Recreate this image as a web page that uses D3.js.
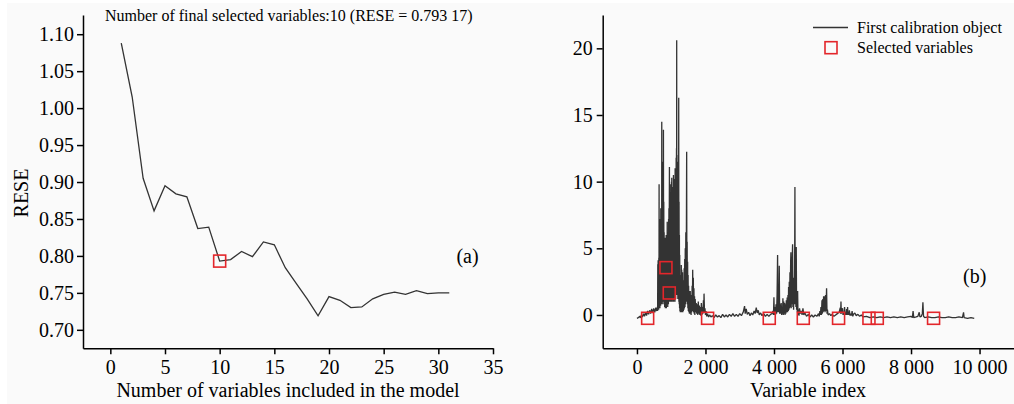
<!DOCTYPE html>
<html>
<head>
<meta charset="utf-8">
<script src="https://cdn.jsdelivr.net/npm/d3@7"></script>
<style>
  body { margin: 0; background: #ffffff; }
  svg { display: block; font-family: "Liberation Serif", "Times New Roman", serif; }
  .axis path, .axis line { stroke: #000; stroke-width: 1.5; }
  .axis text { font-family: "Liberation Serif", serif; font-size: 20px; fill: #000; }
</style>
</head>
<body>
<svg id="chart"></svg>
<script>
// (a) RESE against number of variables in the model
let nVars = [1, 2, 3, 4, 5, 6, 7, 8, 9, 10, 11, 12, 13, 14, 15, 16,
             17, 18, 19, 20, 21, 22, 23, 24, 25, 26, 27, 28, 29, 30, 31];
let rese = [1.088, 1.015, 0.905, 0.861, 0.895, 0.884, 0.880, 0.837, 0.839, 0.793,
            0.795, 0.806, 0.799, 0.819, 0.815, 0.784, 0.763, 0.742, 0.719, 0.745,
            0.740, 0.730, 0.731, 0.742, 0.748, 0.751, 0.748, 0.753, 0.749, 0.750, 0.750];
let bestN = 10;
let bestRese = 0.793;
let leftXTicks = [0, 5, 10, 15, 20, 25, 30, 35];
let leftYTicks = [0.70, 0.75, 0.80, 0.85, 0.90, 0.95, 1.00, 1.05, 1.10];

// (b) spectrum of the first calibration object: [variable index, value]
let spectrum = [
  [0,-0.25],[40,-0.2],[80,-0.1],[100,-0.22],[130,0.0],[160,-0.15],[190,0.1],[220,-0.1],
  [250,0.2],[280,-0.05],[310,0.3],[340,0.05],[370,0.35],[400,0.1],[430,0.45],[460,0.15],
  [490,0.5],[520,0.2],[550,0.55],[575,0.3],[600,0.6],
  [603,0.3],[608,3.8],[613,0.5],[618,4.1],[623,0.8],[628,3.9],[633,0.4],[638,4.3],[643,1.0],
  [646,9.8],[650,0.6],[655,5.2],[660,0.8],[665,6.0],[670,0.5],[675,7.2],[680,1.0],[686,6.5],
  [691,0.7],[696,8.0],[701,1.2],[706,6.8],[711,0.8],[716,7.5],[720,1.5],[724,14.5],[728,1.0],
  [733,9.0],[738,0.8],[743,8.2],[748,1.2],[753,9.5],[758,1.0],[763,11.5],[768,1.5],[773,13.9],
  [778,1.0],[783,8.5],[788,0.8],[793,6.2],[798,1.0],[803,5.5],[808,0.6],[813,4.8],[818,1.0],
  [823,5.8],[828,0.5],[833,4.6],[838,1.2],[843,5.0],[848,0.8],[853,6.0],[858,0.5],[863,4.8],
  [868,1.0],[873,5.5],[878,0.8],[883,7.0],[888,1.0],[893,5.8],[898,0.6],[903,6.2],[908,1.0],
  [913,5.5],[918,0.8],[923,7.2],[928,1.2],[933,8.0],[938,1.0],[943,7.0],[948,11.1],[953,1.5],
  [958,8.5],[963,1.0],[968,9.2],[973,1.2],[978,8.0],[983,1.5],[988,9.8],[993,1.0],[998,8.8],
  [1003,1.5],[1008,10.0],[1013,1.2],[1016,10.3],[1021,1.5],[1026,9.0],[1031,1.0],[1036,9.6],
  [1041,1.8],[1046,8.8],[1051,1.2],[1056,9.5],[1061,1.5],[1065,10.5],[1070,1.0],[1075,9.2],
  [1080,1.8],[1085,8.5],[1090,1.2],[1095,10.2],[1100,1.5],[1105,9.0],[1110,1.0],[1114,11.0],
  [1119,1.8],[1124,9.8],[1129,1.2],[1134,10.5],[1139,2.0],[1144,11.8],[1149,1.5],[1154,12.5],
  [1157,2.0],[1160,20.6],[1164,1.8],[1169,12.0],[1174,1.5],[1179,10.8],[1184,2.0],[1189,11.5],
  [1194,1.2],[1199,9.0],[1204,1.8],[1209,10.0],[1214,1.5],[1219,16.3],[1224,1.0],[1229,8.5],
  [1234,0.8],[1239,6.0],[1244,0.5],[1249,4.5],[1254,0.3],[1259,3.0],[1264,0.2],
  [1270,2.5],[1276,0.2],[1282,3.0],[1288,0.3],[1294,3.75],[1300,0.5],[1306,3.4],[1312,0.2],
  [1318,2.8],[1324,0.3],[1330,3.2],[1338,0.2],[1346,2.0],[1354,0.3],[1362,2.6],[1370,0.4],
  [1378,3.5],[1386,0.5],[1394,4.2],[1402,0.6],[1410,5.0],[1418,0.8],[1426,6.2],[1434,1.0],
  [1442,5.5],[1451,12.25],[1458,1.0],[1465,5.5],[1472,0.8],[1479,4.0],[1486,0.5],[1493,3.0],
  [1500,0.3],[1508,2.2],[1516,0.2],[1524,1.8],[1532,0.1],[1540,1.5],[1548,0.2],[1556,1.8],
  [1564,0.1],[1572,1.2],[1580,0.0],[1590,1.5],[1600,0.2],[1610,2.2],[1618,0.3],[1627,3.4],
  [1636,0.4],[1645,2.8],[1654,0.2],[1663,2.0],[1672,0.1],[1681,1.4],[1690,0.0],[1700,1.2],
  [1715,0.2],[1730,0.9],[1745,0.1],[1760,0.8],[1775,0.0],[1790,1.0],[1805,0.1],[1820,0.7],
  [1835,0.0],[1850,0.6],[1865,-0.05],[1880,0.9],[1895,0.0],[1910,0.6],[1925,0.1],[1940,1.1],
  [1950,0.2],[1958,1.6],[1972,0.2],[1985,0.5],[2000,0.0],[2015,0.3],[2035,-0.1],[2060,0.1],
  [2090,-0.15],
  [2120,0.0],[2160,-0.15],[2200,-0.05],[2250,-0.2],[2300,0.0],[2350,-0.15],[2400,-0.05],
  [2450,-0.2],[2500,0.05],[2550,-0.15],[2600,0.0],[2650,-0.15],[2700,0.05],[2750,-0.1],
  [2800,0.1],[2850,-0.1],[2900,0.05],[2950,-0.1],[3000,0.1],[3050,-0.05],[3100,0.2],
  [3141,0.67],[3160,0.1],[3190,0.45],[3220,0.05],[3260,0.2],[3300,-0.05],[3340,0.15],
  [3380,0.0],[3420,0.3],[3450,0.1],[3482,0.55],[3510,0.15],[3540,0.35],[3570,0.0],
  [3610,0.15],[3650,-0.05],[3700,0.1],[3750,-0.1],[3800,0.05],[3850,-0.1],[3900,0.05],
  [3940,0.1],[3970,0.3],[3985,0.0],[3998,1.33],[4010,0.0],[4030,0.6],[4045,0.0],[4060,0.8],
  [4075,0.1],[4090,1.5],[4105,4.5],[4115,0.2],[4130,1.2],[4140,0.2],[4154,3.7],[4165,0.1],
  [4180,0.8],[4195,0.1],[4210,0.9],[4225,0.0],[4240,0.6],[4250,0.1],[4260,1.25],[4272,0.0],
  [4285,1.0],[4298,0.1],[4310,0.9],[4322,0.0],[4335,0.8],[4348,0.1],[4360,1.1],[4372,0.2],
  [4385,1.3],[4396,0.2],[4408,1.5],[4418,0.3],[4426,2.1],[4436,0.4],[4446,2.5],[4456,0.5],
  [4466,3.2],[4476,0.6],[4486,4.0],[4494,4.7],[4502,0.5],[4512,3.0],[4522,0.8],[4532,4.2],
  [4543,5.3],[4552,0.6],[4562,2.0],[4572,0.4],[4582,2.8],[4592,0.8],[4602,3.5],[4611,9.6],
  [4620,0.8],[4630,2.5],[4640,0.6],[4650,5.1],[4660,0.4],[4670,1.5],[4680,0.2],[4690,1.8],
  [4700,0.0],[4715,0.4],[4730,-0.05],[4745,0.5],[4770,0.1],[4800,0.3],[4820,0.0],[4845,0.5],
  [4870,0.0],[4900,0.15],[4950,-0.1],[5000,0.05],[5050,-0.15],[5100,0.0],[5150,-0.15],
  [5200,0.0],[5250,-0.1],[5300,0.1],[5320,-0.1],[5340,0.3],[5355,0.0],[5370,0.6],[5385,0.0],
  [5400,1.1],[5412,0.1],[5425,1.2],[5436,0.2],[5448,1.4],[5460,0.3],[5477,1.4],[5490,0.2],
  [5505,1.5],[5518,0.3],[5535,2.0],[5548,0.1],[5560,0.4],[5580,0.0],[5620,0.1],[5660,-0.05],
  [5700,0.05],[5750,-0.1],[5800,0.0],[5850,0.1],[5900,0.2],[5935,0.55],[5945,0.1],[5955,1.0],
  [5965,0.1],[5975,0.3],[6000,0.5],[6015,0.0],[6030,0.2],[6045,0.0],[6060,0.6],[6075,0.0],
  [6090,0.2],[6105,0.0],[6120,0.45],[6135,0.0],[6148,0.6],[6160,0.0],[6170,0.2],[6185,0.0],
  [6200,0.35],[6220,-0.05],[6240,0.1],[6260,-0.05],[6280,0.3],[6300,-0.1],[6320,0.05],
  [6360,0.15],[6400,-0.05],[6450,0.05],[6500,-0.1],
  [6550,0.0],[6600,-0.15],[6700,-0.1],[6800,-0.2],[6900,-0.15],[7000,-0.2],[7100,-0.15],
  [7200,-0.2],[7300,-0.15],[7400,-0.2],[7500,-0.15],[7600,-0.2],[7700,-0.15],[7800,-0.2],
  [7900,-0.15],[8000,-0.1],[8040,-0.2],[8060,0.3],[8080,-0.2],[8150,-0.15],[8200,-0.1],
  [8240,0.2],[8260,-0.15],[8300,-0.1],[8330,0.1],[8347,0.95],[8365,-0.1],[8400,-0.2],
  [8500,-0.15],[8600,-0.2],[8700,-0.2],[8800,-0.15],[8900,-0.2],[9000,-0.2],[9100,-0.15],
  [9200,-0.2],[9300,-0.2],[9400,-0.15],[9500,-0.2],[9533,0.2],[9550,-0.2],[9650,-0.25],
  [9750,-0.2],[9845,-0.25]
];
let selIndex = [312, 846, 943, 2062, 3862, 4855, 5885, 6772, 7015, 8658];
let selValue = [-0.25, 3.55, 1.65, -0.25, -0.25, -0.25, -0.25, -0.25, -0.25, -0.25];
let rightXTicks = [0, 2000, 4000, 6000, 8000, 10000];
let rightYTicks = [0, 5, 10, 15, 20];

let width = 1014;
let height = 404;
let lineColor = '#333';
let red = '#e3262b';

let svg = d3.select('#chart').attr('width', width).attr('height', height);
svg.append('rect').attr('x', 7).attr('y', 3).attr('width', width - 7).attr('height', height - 3)
   .attr('fill', '#fafafa');

// ---------- panel (a) ----------
let ax = d3.scaleLinear().domain([-2.5, 35]).range([83, 493]);
let ay = d3.scaleLinear().domain([0.675, 1.126]).range([348.3, 15]);

svg.append('g').attr('class', 'axis')
   .attr('transform', 'translate(0,' + 348.3 + ')')
   .call(d3.axisBottom(ax).tickValues(leftXTicks).tickSizeInner(6).tickSizeOuter(0).tickPadding(6));
svg.append('g').attr('class', 'axis')
   .attr('transform', 'translate(' + 83 + ',0)')
   .call(d3.axisLeft(ay).tickValues(leftYTicks).tickFormat(d3.format('.2f'))
         .tickSizeInner(6).tickSizeOuter(0).tickPadding(3));

svg.append('path')
   .datum(nVars.map((n, i) => [n, rese[i]]))
   .attr('fill', 'none').attr('stroke', lineColor).attr('stroke-width', 1.3)
   .attr('d', d3.line().x(d => ax(d[0])).y(d => ay(d[1])));

svg.append('rect')
   .attr('x', ax(bestN) - 6).attr('y', ay(bestRese) - 6)
   .attr('width', 12).attr('height', 12)
   .attr('fill', 'none').attr('stroke', red).attr('stroke-width', 1.6);

svg.append('text').attr('x', 105).attr('y', 20.5).attr('font-size', 16)
   .text('Number of final selected variables:10 (RESE = 0.793 17)');
svg.append('text').attr('x', 467.5).attr('y', 263).attr('font-size', 20)
   .attr('text-anchor', 'middle').text('(a)');
svg.append('text').attr('x', 288).attr('y', 397).attr('font-size', 20)
   .attr('text-anchor', 'middle').text('Number of variables included in the model');
svg.append('text').attr('transform', 'translate(28,193) rotate(-90)').attr('font-size', 20)
   .attr('text-anchor', 'middle').text('RESE');

// ---------- panel (b) ----------
let bx = d3.scaleLinear().domain([-1000, 11000]).range([602.7, 1013.8]);
let by = d3.scaleLinear().domain([-2.5, 22.5]).range([348.3, 15]);

svg.append('g').attr('class', 'axis')
   .attr('transform', 'translate(0,' + 348.3 + ')')
   .call(d3.axisBottom(bx).tickValues(rightXTicks)
         .tickFormat(d => d3.format(',')(d).replace(/,/g, ' '))
         .tickSizeInner(6).tickSizeOuter(0).tickPadding(6));
svg.append('g').attr('class', 'axis')
   .attr('transform', 'translate(' + 602.7 + ',0)')
   .call(d3.axisLeft(by).tickValues(rightYTicks).tickSizeInner(6).tickSizeOuter(0).tickPadding(4));

svg.append('path')
   .datum(spectrum)
   .attr('fill', 'none').attr('stroke', lineColor).attr('stroke-width', 1.3)
   .attr('stroke-linejoin', 'bevel')
   .attr('d', d3.line().x(d => bx(d[0])).y(d => by(d[1])));

svg.selectAll('rect.sel')
   .data(selIndex)
   .enter()
   .append('rect')
   .attr('class', 'sel')
   .attr('x', (d) => bx(d) - 6)
   .attr('y', (d, i) => by(selValue[i]) - 6)
   .attr('width', 12).attr('height', 12)
   .attr('fill', 'none').attr('stroke', red).attr('stroke-width', 1.6);

// legend
svg.append('line').attr('x1', 813).attr('x2', 848).attr('y1', 27.5).attr('y2', 27.5)
   .attr('stroke', lineColor).attr('stroke-width', 1.3);
svg.append('text').attr('x', 857).attr('y', 33).attr('font-size', 16).text('First calibration object');
svg.append('rect').attr('x', 825).attr('y', 41.7).attr('width', 12).attr('height', 12)
   .attr('fill', 'none').attr('stroke', red).attr('stroke-width', 1.6);
svg.append('text').attr('x', 857).attr('y', 53).attr('font-size', 16).text('Selected variables');

svg.append('text').attr('x', 974.7).attr('y', 283).attr('font-size', 20)
   .attr('text-anchor', 'middle').text('(b)');
svg.append('text').attr('x', 808).attr('y', 397).attr('font-size', 20)
   .attr('text-anchor', 'middle').text('Variable index');
</script>
</body>
</html>
